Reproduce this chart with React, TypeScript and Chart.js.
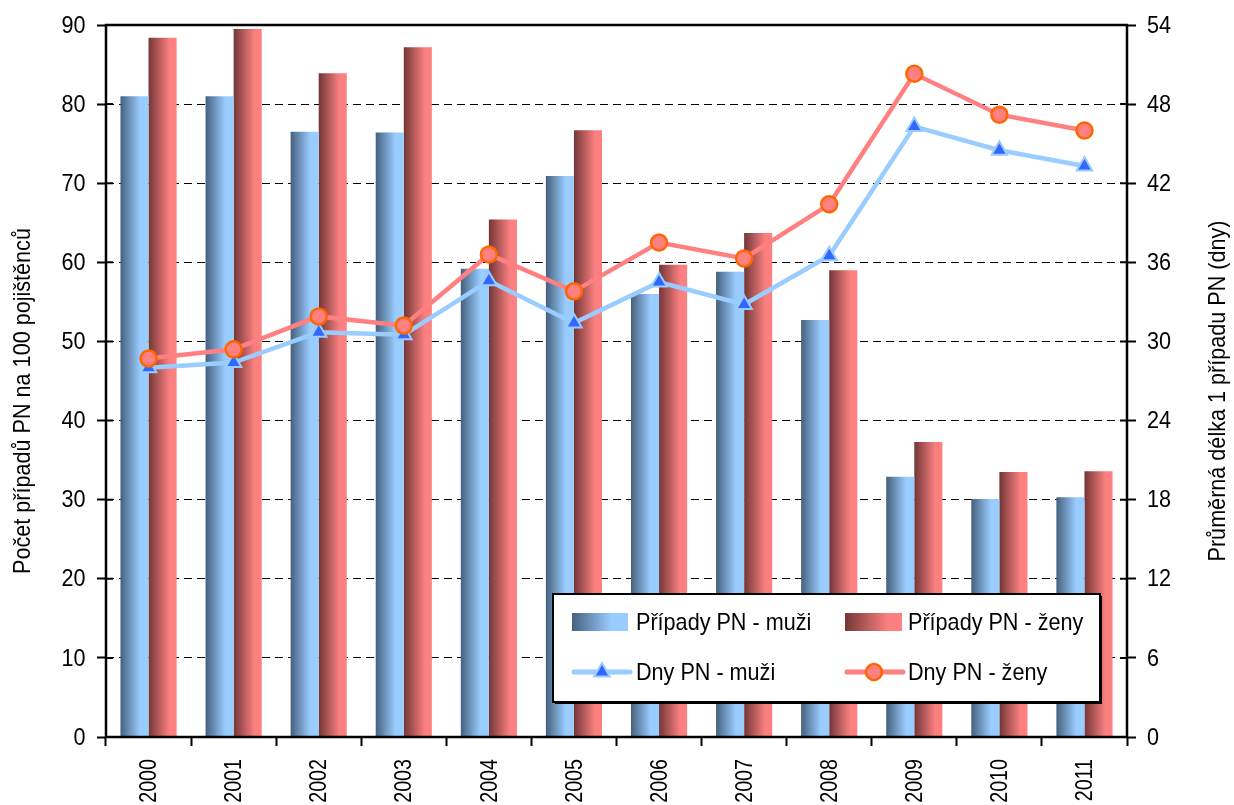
import React, { useEffect, useRef } from "react";
import { Chart, registerables } from "chart.js";

Chart.register(...registerables);

const years = ["2000", "2001", "2002", "2003", "2004", "2005", "2006", "2007", "2008", "2009", "2010", "2011"];
const casesMen = [81.0, 81.0, 76.5, 76.4, 59.2, 70.9, 56.0, 58.8, 52.7, 32.9, 30.1, 30.3];
const casesWomen = [88.4, 89.5, 83.9, 87.2, 65.4, 76.7, 59.7, 63.7, 59.0, 37.3, 33.5, 33.6];
const daysMen = [28.0, 28.4, 30.7, 30.5, 34.6, 31.4, 34.5, 32.8, 36.5, 46.3, 44.5, 43.3];
const daysWomen = [28.7, 29.4, 31.9, 31.2, 36.6, 33.8, 37.5, 36.3, 40.4, 50.3, 47.2, 46.0];

const leftAxisTitle = "Počet případů PN na 100 pojištěnců";
const rightAxisTitle = "Průměrná délka 1 případu PN (dny)";
const labelCasesMen = "Případy PN - muži";
const labelCasesWomen = "Případy PN - ženy";
const labelDaysMen = "Dny PN - muži";
const labelDaysWomen = "Dny PN - ženy";

const FONT = '"Liberation Sans", Arial, sans-serif';
const SQUEEZE = 0.9;
const CAT_PCT = 0.66;

const BLUE_STOPS: [number, string][] = [[0, "#45607d"], [0.7, "#99ccff"], [1, "#99ccff"]];
const RED_STOPS: [number, string][] = [[0, "#733636"], [0.75, "#fb8080"], [1, "#ff8080"]];

function makeGrad(c: CanvasRenderingContext2D, x0: number, x1: number, stops: [number, string][]) {
  const g = c.createLinearGradient(x0, 0, x1, 0);
  stops.forEach(([o, col]) => g.addColorStop(o, col));
  return g;
}

function barBg(side: "left" | "right", stops: [number, string][], fallback: string) {
  return (ctx: any) => {
    const chart = ctx.chart;
    const xs = chart.scales && chart.scales.x;
    if (!xs || ctx.dataIndex === undefined || !xs.width) return fallback;
    const center = xs.getPixelForValue(ctx.dataIndex);
    const w = (xs.width / years.length) * CAT_PCT / 2;
    const x0 = side === "left" ? center - w : center;
    return makeGrad(chart.ctx, x0, x0 + w, stops);
  };
}

// draws condensed text (Arial-like glyphs squeezed horizontally, like the reference)
function text(
  c: CanvasRenderingContext2D,
  s: string,
  x: number,
  y: number,
  size: number,
  align: CanvasTextAlign,
  rotate: boolean,
  squeeze: number = SQUEEZE
) {
  c.save();
  c.translate(x, y);
  if (rotate) c.rotate(-Math.PI / 2);
  c.scale(squeeze, 1);
  c.font = `${size}px ${FONT}`;
  c.fillStyle = "#000";
  c.textAlign = align;
  c.textBaseline = "middle";
  c.fillText(s, 0, 0);
  c.restore();
}

const framePlugin = {
  id: "frame",
  afterDatasetsDraw(chart: any) {
    const { ctx, chartArea: a } = chart;
    const { y, y1 } = chart.scales;
    ctx.save();
    ctx.strokeStyle = "#000";
    ctx.lineWidth = 2.5;
    ctx.strokeRect(a.left, a.top, a.right - a.left, a.bottom - a.top);
    ctx.lineWidth = 2;
    ctx.beginPath();
    y.ticks.forEach((t: any) => {
      const py = y.getPixelForValue(t.value);
      ctx.moveTo(a.left, py);
      ctx.lineTo(a.left + 7, py);
    });
    y1.ticks.forEach((t: any) => {
      const py = y1.getPixelForValue(t.value);
      ctx.moveTo(a.right - 7, py);
      ctx.lineTo(a.right, py);
    });
    ctx.stroke();
    ctx.restore();
  },
};

const overlayPlugin = {
  id: "overlay",
  afterDraw(chart: any) {
    const c: CanvasRenderingContext2D = chart.ctx;
    const { x, y, y1 } = chart.scales;
    c.save();

    y.ticks.forEach((t: any) => {
      text(c, String(t.value), y.right - 20.5, y.getPixelForValue(t.value) + 1, 24, "right", false);
    });
    y1.ticks.forEach((t: any) => {
      text(c, String(t.value), y1.left + 20, y1.getPixelForValue(t.value) + 1, 24, "left", false);
    });
    years.forEach((lab, i) => {
      text(c, lab, x.getPixelForValue(i) + 1, x.top + 22, 24, "right", true, 0.82);
    });

    text(c, leftAxisTitle, 23, 401, 24, "center", true);
    text(c, rightAxisTitle, 1218, 391, 24, "center", true);

    const bx = 553, by = 594, bw = 547, bh = 108;
    c.fillStyle = "#000";
    c.fillRect(bx + 2, by + 2, bw, bh);
    c.fillStyle = "#fff";
    c.fillRect(bx, by, bw, bh);
    c.strokeStyle = "#000";
    c.lineWidth = 2;
    c.strokeRect(bx, by, bw, bh);

    const row1 = 622, row2 = 672;
    const col1 = 572, col2 = 845;
    c.fillStyle = makeGrad(c, col1, col1 + 56, BLUE_STOPS);
    c.fillRect(col1, row1 - 9, 56, 18);
    c.fillStyle = makeGrad(c, col2, col2 + 57, RED_STOPS);
    c.fillRect(col2, row1 - 9, 57, 18);
    c.lineCap = "round";
    c.lineWidth = 5;
    c.strokeStyle = "#99ccff";
    c.beginPath();
    c.moveTo(col1 + 2, row2);
    c.lineTo(col1 + 58, row2);
    c.stroke();
    c.strokeStyle = "#ff8080";
    c.beginPath();
    c.moveTo(col2 + 2, row2);
    c.lineTo(col2 + 58, row2);
    c.stroke();
    c.lineCap = "butt";
    const tx = col1 + 30, r = 9;
    c.beginPath();
    c.moveTo(tx, row2 - r);
    c.lineTo(tx + r * Math.sin((2 * Math.PI) / 3), row2 - r * Math.cos((2 * Math.PI) / 3));
    c.lineTo(tx + r * Math.sin((4 * Math.PI) / 3), row2 - r * Math.cos((4 * Math.PI) / 3));
    c.closePath();
    c.fillStyle = "#3366ff";
    c.fill();
    c.lineWidth = 2;
    c.strokeStyle = "#99ccff";
    c.stroke();
    c.beginPath();
    c.arc(col2 + 29, row2, 8, 0, Math.PI * 2);
    c.fillStyle = "#ff8080";
    c.fill();
    c.lineWidth = 2.5;
    c.strokeStyle = "#ff6600";
    c.stroke();

    text(c, labelCasesMen, 636, row1 + 1, 24, "left", false);
    text(c, labelCasesWomen, 908, row1 + 1, 24, "left", false);
    text(c, labelDaysMen, 636, row2 + 1, 24, "left", false);
    text(c, labelDaysWomen, 908, row2 + 1, 24, "left", false);
    c.restore();
  },
};

export default function App() {
  const ref = useRef<HTMLCanvasElement | null>(null);
  useEffect(() => {
    document.body.style.margin = "0";
    if (!ref.current) return;
    const hidden = "rgba(0,0,0,0)";
    const chart = new Chart(ref.current, {
      type: "bar",
      data: {
        labels: years,
        datasets: [
          {
            type: "line",
            label: labelDaysWomen,
            data: daysWomen,
            yAxisID: "y1",
            borderColor: "#ff8080",
            borderWidth: 4.5,
            pointStyle: "circle",
            pointRadius: 8,
            pointBackgroundColor: "#ff8080",
            pointBorderColor: "#ff6600",
            pointBorderWidth: 2.5,
            tension: 0,
            order: 0,
          } as any,
          {
            type: "line",
            label: labelDaysMen,
            data: daysMen,
            yAxisID: "y1",
            borderColor: "#99ccff",
            borderWidth: 4.5,
            pointStyle: "triangle",
            pointRadius: 9,
            pointBackgroundColor: "#3366ff",
            pointBorderColor: "#99ccff",
            pointBorderWidth: 2,
            tension: 0,
            order: 1,
          } as any,
          {
            type: "bar",
            label: labelCasesMen,
            data: casesMen,
            yAxisID: "y",
            backgroundColor: barBg("left", BLUE_STOPS, "#99ccff"),
            borderWidth: 0,
            categoryPercentage: CAT_PCT,
            barPercentage: 1,
            order: 2,
          } as any,
          {
            type: "bar",
            label: labelCasesWomen,
            data: casesWomen,
            yAxisID: "y",
            backgroundColor: barBg("right", RED_STOPS, "#ff8080"),
            borderWidth: 0,
            categoryPercentage: CAT_PCT,
            barPercentage: 1,
            order: 2,
          } as any,
        ],
      },
      options: {
        responsive: false,
        animation: false,
        devicePixelRatio: 1,
        layout: { padding: { top: 25, left: 0, right: 0, bottom: 0 } },
        plugins: { legend: { display: false }, tooltip: { enabled: false } },
        scales: {
          x: {
            offset: true,
            grid: {
              display: true,
              drawOnChartArea: false,
              offset: true,
              tickLength: 9,
              tickWidth: 2,
              tickColor: "#000",
              color: "#000",
            },
            border: { display: false },
            ticks: {
              minRotation: 90,
              maxRotation: 90,
              padding: 14,
              color: hidden,
              font: { family: FONT, size: 20 },
            },
            afterFit: (s: any) => {
              s.height = 68;
            },
          },
          y: {
            position: "left",
            min: 0,
            max: 90,
            ticks: {
              stepSize: 10,
              padding: 11,
              color: hidden,
              font: { family: FONT, size: 20 },
            },
            grid: {
              color: "#000",
              lineWidth: 1,
              tickLength: 9,
              tickWidth: 2,
              tickColor: "#000",
            },
            border: { display: false, dash: [8, 5] },
            afterFit: (s: any) => {
              s.width = 106;
            },
          },
          y1: {
            position: "right",
            min: 0,
            max: 54,
            ticks: {
              stepSize: 6,
              padding: 11,
              color: hidden,
              font: { family: FONT, size: 20 },
            },
            grid: {
              drawOnChartArea: false,
              tickLength: 9,
              tickWidth: 2,
              tickColor: "#000",
              color: "#000",
            },
            border: { display: false },
            afterFit: (s: any) => {
              s.width = 107;
            },
          },
        },
      } as any,
      plugins: [framePlugin, overlayPlugin],
    });
    return () => chart.destroy();
  }, []);
  return (
    <div style={{ position: "absolute", left: 0, top: 0, width: 1234, height: 805, background: "#fff" }}>
      <canvas ref={ref} width={1234} height={805} style={{ display: "block", width: 1234, height: 805 }} />
    </div>
  );
}
